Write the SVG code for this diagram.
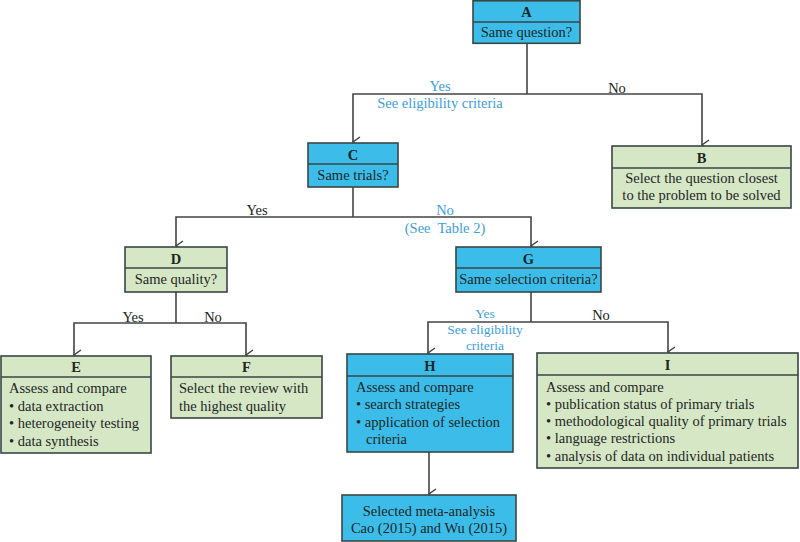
<svg xmlns="http://www.w3.org/2000/svg" width="800" height="542" viewBox="0 0 800 542">
<defs>
<style>
.bg{fill:#ffffff}
.blue{fill:#3cbde9;stroke:#3a4644;stroke-width:1.6}
.green{fill:#d6e7c5;stroke:#3a4644;stroke-width:1.6}
.div{stroke:#3a4644;stroke-width:1.4;fill:none}
.t{font-family:"Liberation Serif","Times New Roman",serif;font-size:14.5px;fill:#1d2626}
.c{text-anchor:middle}
.h{font-weight:bold}
.lb{font-family:"Liberation Serif","Times New Roman",serif;font-size:14.5px;text-anchor:middle}
.sm{font-size:13.5px}
.lk{fill:#222}
.lc{fill:#3d9ee0}
.con{stroke:#444;stroke-width:1.6;fill:none;marker-end:url(#arr)}
.ln{stroke:#444;stroke-width:1.6;fill:none}
</style>
<marker id="arr" viewBox="0 0 12 12" refX="6" refY="11" markerWidth="12" markerHeight="12" markerUnits="userSpaceOnUse" orient="auto-start-reverse">
<path d="M1,4 L6,11 L11,4" fill="none" stroke="#444" stroke-width="1.5"/>
</marker>
</defs>
<rect class="bg" x="0" y="0" width="800" height="542"/>

<g id="connectors">
<path class="ln" d="M527,43 V94"/>
<path class="con" d="M527,94 H353 V142"/>
<path class="con" d="M527,94 H702 V145"/>
<path class="ln" d="M353,187 V217"/>
<path class="con" d="M353,217 H176 V246"/>
<path class="con" d="M353,217 H531 V246"/>
<path class="ln" d="M176,292 V323"/>
<path class="con" d="M176,323 H74 V355"/>
<path class="con" d="M176,323 H246 V355"/>
<path class="ln" d="M531,292 V322"/>
<path class="con" d="M531,322 H428 V353"/>
<path class="con" d="M531,322 H668 V352"/>
<path class="con" d="M429,452 V494"/>
</g>

<g id="labels">
<text class="lb lc" x="440" y="91">Yes</text>
<text class="lb lc" x="440" y="108">See eligibility criteria</text>
<text class="lb lk" x="617" y="93">No</text>
<text class="lb lk" x="257" y="215">Yes</text>
<text class="lb lc" x="445" y="215">No</text>
<text class="lb lc" x="445" y="233" xml:space="preserve">(See  Table 2)</text>
<text class="lb lk" x="133" y="322">Yes</text>
<text class="lb lk" x="213" y="322">No</text>
<text class="lb lc sm" x="485" y="318">Yes</text>
<text class="lb lc sm" x="485" y="334">See eligibility</text>
<text class="lb lc sm" x="485" y="350">criteria</text>
<text class="lb lk" x="601" y="320">No</text>
</g>

<g id="A">
<rect class="blue" x="473" y="0.8" width="107" height="42.5"/>
<path class="div" d="M473,22 H580"/>
<text class="t c h" x="526.5" y="17">A</text>
<text class="t c" x="526.5" y="37">Same question?</text>
</g>

<g id="B">
<rect class="green" x="612" y="146" width="179" height="62"/>
<path class="div" d="M612,168 H791"/>
<text class="t c h" x="701.5" y="163">B</text>
<text class="t c" x="701.5" y="183">Select the question closest</text>
<text class="t c" x="701.5" y="200">to the problem to be solved</text>
</g>

<g id="C">
<rect class="blue" x="308" y="143" width="90" height="44"/>
<path class="div" d="M308,164 H398"/>
<text class="t c h" x="353" y="160">C</text>
<text class="t c" x="353" y="180">Same trials?</text>
</g>

<g id="D">
<rect class="green" x="125" y="247" width="102" height="45"/>
<path class="div" d="M125,268 H227"/>
<text class="t c h" x="176" y="264">D</text>
<text class="t c" x="176" y="284">Same quality?</text>
</g>

<g id="G">
<rect class="blue" x="456" y="247" width="145" height="45"/>
<path class="div" d="M456,268 H601"/>
<text class="t c h" x="528.5" y="264">G</text>
<text class="t c" x="528.5" y="284">Same selection criteria?</text>
</g>

<g id="E">
<rect class="green" x="1" y="356" width="150" height="97"/>
<path class="div" d="M1,377 H151"/>
<text class="t c h" x="76" y="372">E</text>
<text class="t" x="9" y="393">Assess and compare</text>
<text class="t" x="9" y="411">• data extraction</text>
<text class="t" x="9" y="428">• heterogeneity testing</text>
<text class="t" x="9" y="446">• data synthesis</text>
</g>

<g id="F">
<rect class="green" x="171" y="356" width="151" height="62"/>
<path class="div" d="M171,377 H322"/>
<text class="t c h" x="246.5" y="372">F</text>
<text class="t" x="179" y="393">Select the review with</text>
<text class="t" x="179" y="411">the highest quality</text>
</g>

<g id="H">
<rect class="blue" x="347" y="354" width="166" height="98"/>
<path class="div" d="M347,376 H513"/>
<text class="t c h" x="430" y="371">H</text>
<text class="t" x="356" y="392">Assess and compare</text>
<text class="t" x="356" y="409">• search strategies</text>
<text class="t" x="356" y="427">• application of selection</text>
<text class="t" x="366" y="444">criteria</text>
</g>

<g id="I">
<rect class="green" x="537" y="353" width="261" height="115"/>
<path class="div" d="M537,375 H798"/>
<text class="t c h" x="667.5" y="370">I</text>
<text class="t" x="546" y="392">Assess and compare</text>
<text class="t" x="546" y="409">• publication status of primary trials</text>
<text class="t" x="546" y="426">• methodological quality of primary trials</text>
<text class="t" x="546" y="443">• language restrictions</text>
<text class="t" x="546" y="461">• analysis of data on individual patients</text>
</g>

<g id="Selected">
<rect class="blue" x="342" y="495" width="174" height="46"/>
<text class="t c" x="429" y="516">Selected meta-analysis</text>
<text class="t c" x="429" y="533">Cao (2015) and Wu (2015)</text>
</g>
</svg>
